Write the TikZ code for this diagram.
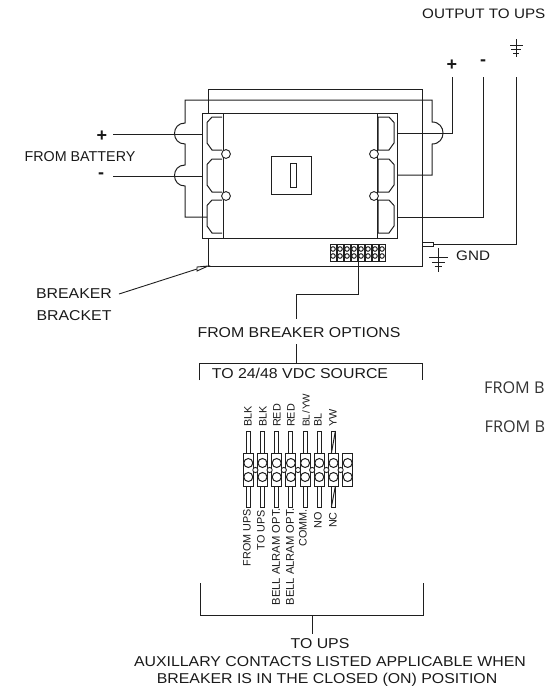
\documentclass[tikz,border=0pt]{standalone}
\usepackage{fontspec}
\setmainfont{Liberation Sans}
\newfontfamily\widef[FakeStretch=1.11]{Liberation Sans}
\newfontfamily\clipf{Open Sans}
\tikzset{
  wire/.style={draw=black!88,line width=1pt,line join=miter},
  thin wire/.style={draw=black!88,line width=0.9pt},
  lab/.style={font=\widef\fontsize{14.3}{16}\selectfont,inner sep=0pt,text=black!90},
  plainlab/.style={font=\fontsize{14.3}{16}\selectfont,inner sep=0pt,text=black!90},
  sign/.style={font=\fontsize{18}{18}\selectfont\bfseries,inner sep=0pt,text=black!90},
  vlab/.style={font=\fontsize{10.8}{12}\selectfont,inner sep=0pt,rotate=90,text=black!90},
  toplab/.style={vlab,anchor=west},
  botlab/.style={vlab,anchor=east},
  clipped/.style={font=\clipf\fontsize{16.2}{18}\selectfont,inner sep=0pt,anchor=west,text=black!80},
}
\begin{document}
\begin{tikzpicture}[x=1pt,y=-1pt]
\useasboundingbox (0,0) rectangle (546,691);
% labels
\node[lab,font=\widef\fontsize{13.7}{16}\selectfont,anchor=east] (output) at (545.5,14) {OUTPUT TO UPS};
\node[sign] (plusR) at (452,65) {+};
\node[sign] (minusR) at (483,63) {-};
\node[lab,anchor=west,font=\widef\fontsize{13.7}{16}\selectfont] (gnd) at (456,256) {GND};
\node[sign] (plusL) at (102,136) {+};
\node[sign] (minusL) at (101,176) {-};
\node[plainlab] (battery) at (80,157) {FROM BATTERY};
\node[lab] (breaker) at (74,294) {BREAKER};
\node[lab] (bracket) at (74,316) {BRACKET};
\node[lab] (options) at (299,333) {FROM BREAKER OPTIONS};
\node[lab] (source) at (300,373) {TO 24/48 VDC SOURCE};
\node[lab] (toups) at (320,644) {TO UPS};
\node[lab] (aux) at (330,662) {AUXILLARY CONTACTS LISTED APPLICABLE WHEN};
\node[lab] (closed) at (327,680) {BREAKER IS IN THE CLOSED (ON) POSITION};
\node[clipped] (fromA) at (484,388) {FROM B};
\node[clipped] (fromB) at (484.5,427) {FROM B};
% coordinates
\coordinate (pT) at (452,77);
\coordinate (mT) at (483,77);
\coordinate (gT) at (516,77);
% breaker outline
\draw[wire] (208,113) -- (208,89) -- (422,89) -- (422,266) -- (208,266) -- (208,238);
\draw[wire] (202,113) rectangle (223,238);
\draw[wire] (377,113) rectangle (397,238);
\draw[wire] (223,113) -- (377,113) (223,238) -- (377,238);
% bus loop
\draw[wire] (207,217) -- (185,217) -- (185,186) .. controls (171,186) and (171,165) .. (185,165)
  -- (185,144) .. controls (171,144) and (171,123) .. (185,123) -- (185,100) -- (432,100) -- (432,122)
  .. controls (446.7,122) and (446.7,144) .. (432,144) -- (432,175) -- (397,175);
% input wires
\draw[wire] (113,134) -- (202,134);
\draw[wire] (113,176) -- (202,176);
% output wires
\draw[wire] (397,133) -- (452,133) -- (pT);
\draw[wire] (397,217) -- (483,217) -- (mT);
\draw[wire] (gT) -- (516,244) -- (433,244);
\draw[thin wire] (422,242) rectangle (433,246);
% terminals left
\foreach \t in {117,159,200}{
  \draw[wire] (222,\t) -- (212,\t) -- (207,\t+5.5) -- (207,\t+26) -- (212,\t+33) -- (222,\t+33);
}
% terminals right
\foreach \t in {117,159,200}{
  \draw[wire] (378,\t) -- (389,\t) -- (394,\t+5.5) -- (394,\t+26) -- (389,\t+33) -- (378,\t+33) -- cycle;
}
\foreach \p in {154,196}{
  \draw[thin wire,fill=white] (226,\p) circle (4.4);
  \draw[thin wire,fill=white] (374,\p) circle (4.4);
}
% handle
\draw[wire] (271,156) rectangle (311,194);
\draw[wire] (290,163) rectangle (296,187);
% mini connector
\foreach \i in {0,...,7}{
  \draw[wire] (330+7*\i,244) rectangle (336+7*\i,261);
  \draw[wire] (333+7*\i,249) circle (2.3);
  \draw[wire] (333+7*\i,256) circle (2.3);
}
% options wires
\draw[wire] (358,250) -- (358,294) -- (296,294) -- (296,319);
\draw[wire] (296,344) -- (296,363);
% source bracket
\draw[wire] (199,380) -- (199,363) -- (422,363) -- (422,380);
% breaker bracket pointer
\draw[thin wire] (208,266) -- (197,267) -- (197,271) -- cycle;
\draw[thin wire] (119,294) -- (197,269);
% ground symbols
\draw[wire] (438,248) -- (438,272) (429,257) -- (448,257) (432,262) -- (445,262) (434.5,266.5) -- (442,266.5);
\draw[wire] (516,39) -- (516,57) (510,45) -- (523,45) (511,49) -- (521,49) (513,53) -- (519,53);
% terminal block
\foreach \i in {0,...,7}{
  \pgfmathsetmacro\cx{248.3+14.2*\i}
  \ifnum\i<7
    \draw[wire] (\cx-2,431) rectangle (\cx+2,453);
    \draw[wire] (\cx-2,486) rectangle (\cx+2,507);
  \fi
  \draw[wire] (\cx-5,453) rectangle (\cx+5,486);
}
\foreach \i in {0,...,7}{
  \pgfmathsetmacro\cx{248.3+14.2*\i}
  \draw[wire,fill=white] (\cx,463) circle (4.5);
  \draw[wire,fill=white] (\cx,477) circle (4.5);
  \ifnum\i<7
    \draw[thin wire,fill=white] (\cx+7.1,470) circle (2.6);
  \fi
}
\draw[wire] (331.4,453) -- (335.4,431);
\draw[wire] (331.4,507) -- (335.4,486);
% terminal labels
\node[toplab] (t1) at (248,427) {BLK};
\node[toplab] (t2) at (263,427) {BLK};
\node[toplab] (t3) at (277,427) {RED};
\node[toplab] (t4) at (291,427) {RED};
\node[toplab,font=\fontsize{10}{12}\selectfont] (t5) at (306,427) {BL\kern1pt/\kern1pt YW};
\node[toplab] (t6) at (318,427) {BL};
\node[toplab] (t7) at (333,427) {YW};
\node[botlab] (b1) at (247,509) {FROM UPS};
\node[botlab] (b2) at (261,510) {TO UPS};
\node[botlab,font=\fontsize{11.2}{12}\selectfont] (b3) at (276,508) {BELL ALRAM OPT.};
\node[botlab,font=\fontsize{11.2}{12}\selectfont] (b4) at (290,508) {BELL ALRAM OPT.};
\node[botlab] (b5) at (303,509) {COMM.};
\node[botlab] (b6) at (318,512) {NO};
\node[botlab] (b7) at (333,512) {NC};
% bottom bracket
\draw[wire] (200,583) -- (200,615) -- (423,615) -- (423,583);
\draw[wire] (312,615) -- (312,634);
\end{tikzpicture}
\end{document}
